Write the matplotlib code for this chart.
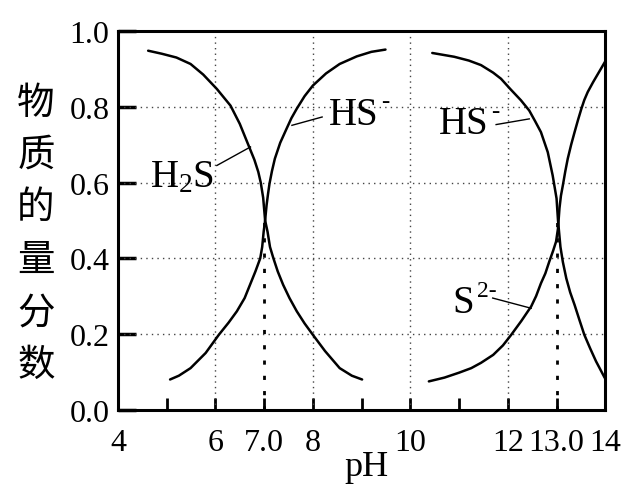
import matplotlib
matplotlib.use("Agg")
import matplotlib.pyplot as plt

plt.rcParams['font.family'] = ['Liberation Serif', 'DejaVu Serif']
plt.rcParams['mathtext.fontset'] = 'custom'
plt.rcParams['mathtext.rm'] = 'Liberation Serif'
plt.rcParams['mathtext.it'] = 'Liberation Serif'

# values (pH, fraction)
h2s_ph = [4.62, 4.9, 5.2, 5.49, 5.75, 6.03, 6.31, 6.5, 6.68, 6.80, 6.88, 6.93,
          6.98, 7.02, 7.07, 7.12, 7.19, 7.28, 7.39, 7.52, 7.67, 7.83, 8.0,
          8.25, 8.55, 8.8, 9.01]
h2s_y = [0.948, 0.94, 0.93, 0.913, 0.885, 0.847, 0.803, 0.755, 0.698, 0.66, 0.628, 0.60,
         0.56, 0.50, 0.47, 0.43, 0.40, 0.365, 0.33, 0.295, 0.26, 0.228, 0.198,
         0.155, 0.11, 0.09, 0.08]

hs1_ph = [5.07, 5.25, 5.49, 5.8, 6.07, 6.27, 6.44, 6.6, 6.71, 6.82, 6.92, 6.96,
          6.99, 7.02, 7.05, 7.08, 7.11, 7.16, 7.22, 7.33, 7.46, 7.56, 7.67,
          7.83, 8.0, 8.27, 8.55, 8.9, 9.2, 9.49]
hs1_y = [0.08, 0.09, 0.11, 0.15, 0.198, 0.23, 0.26, 0.295, 0.33, 0.365, 0.40, 0.43,
         0.47, 0.50, 0.54, 0.57, 0.597, 0.63, 0.663, 0.705, 0.742, 0.77, 0.795,
         0.828, 0.856, 0.888, 0.913, 0.933, 0.945, 0.951]

hs2_ph = [10.45, 10.9, 11.2, 11.45, 11.7, 11.86, 12.05, 12.27, 12.44, 12.56, 12.68,
          12.82, 12.92, 13.0, 13.03, 13.08, 13.13, 13.20, 13.28, 13.37, 13.47,
          13.57, 13.69, 13.81, 13.99]
hs2_y = [0.942, 0.932, 0.922, 0.91, 0.89, 0.874, 0.847, 0.817, 0.79, 0.762, 0.733,
         0.68, 0.619, 0.558, 0.50, 0.43, 0.39, 0.347, 0.31, 0.277, 0.237,
         0.198, 0.162, 0.128, 0.084]

s2_ph = [10.38, 10.7, 11.0, 11.25, 11.45, 11.7, 11.9, 12.07, 12.28, 12.48, 12.58,
         12.68, 12.77, 12.85, 12.93, 12.99, 13.03, 13.06, 13.09, 13.13, 13.18,
         13.23, 13.30, 13.37, 13.44, 13.51, 13.57, 13.64, 13.75, 13.85, 14.0]
s2_y = [0.075, 0.085, 0.098, 0.11, 0.124, 0.145, 0.17, 0.198, 0.235, 0.273, 0.30,
        0.334, 0.36, 0.391, 0.42, 0.444, 0.479, 0.532, 0.565, 0.593, 0.63,
        0.663, 0.70, 0.733, 0.765, 0.795, 0.818, 0.839, 0.865, 0.887, 0.92]

xticks = [4, 5, 6, 7, 8, 9, 10, 11, 12, 13, 14]
xticklabels = ['4', '', '6', '7.0', '8', '', '10', '', '12', '13.0', '14']
yticks = [0.0, 0.2, 0.4, 0.6, 0.8, 1.0]
yticklabels = ['0.0', '0.2', '0.4', '0.6', '0.8', '1.0']
grid_x_full = [6, 8, 10, 12]
grid_x_half = [7, 13]
grid_y = [0.2, 0.4, 0.6, 0.8]
ylabel_chars = ['物', '质', '的', '量', '分', '数']

fig = plt.figure(figsize=(6.24, 4.85), dpi=100)
ax = fig.add_axes([0.189, 0.153, 0.781, 0.781])

dot = (0, (1, 3))
ax.vlines(grid_x_full, 0, 1, colors='#444444', linestyles=dot, linewidth=1)
ax.vlines(grid_x_half, 0, 0.5, colors='black', linestyles=(0, (1.5, 4)), linewidth=2)
ax.hlines(grid_y, 4, 14, colors='#444444', linestyles=dot, linewidth=1)

for px, py in [(h2s_ph, h2s_y), (hs1_ph, hs1_y), (hs2_ph, hs2_y), (s2_ph, s2_y)]:
    ax.plot(px, py, color='black', lw=1.8, solid_capstyle='round', solid_joinstyle='round')

ax.set_xlim(4, 14)
ax.set_ylim(0, 1)
ax.set_xticks(xticks)
ax.set_xticklabels(xticklabels)
ax.set_yticks(yticks)
ax.set_yticklabels(yticklabels)
ax.tick_params(axis='x', direction='in', length=9, width=2, labelsize=23, pad=13)
ax.tick_params(axis='y', direction='in', length=13, width=2.5, labelsize=23, pad=6)
for s in ax.spines.values():
    s.set_linewidth(2.2)

# species labels and leader lines
ax.text(4.66, 0.616, r'H$_\mathrm{2}$S', fontsize=28, ha='left', va='center')
ax.plot([6.03, 6.72], [0.645, 0.694], color='black', lw=1)

ax.text(8.32, 0.78, 'HS', fontsize=28, ha='left', va='center')
ax.text(9.40, 0.815, '-', fontsize=18, ha='left', va='center')
ax.plot([8.19, 7.57], [0.773, 0.751], color='black', lw=1)

ax.text(10.58, 0.755, 'HS', fontsize=28, ha='left', va='center')
ax.text(11.66, 0.79, '-', fontsize=18, ha='left', va='center')
ax.plot([11.76, 12.44], [0.753, 0.768], color='black', lw=1)

ax.text(10.87, 0.284, 'S', fontsize=28, ha='left', va='center')
ax.text(11.37, 0.315, '2-', fontsize=17, ha='left', va='center')
ax.plot([11.69, 12.48], [0.295, 0.268], color='black', lw=1)

fig.text(366 / 624, 1 / 485, 'pH', fontsize=26, ha='center', va='bottom')

for i, ch in enumerate(ylabel_chars):
    fig.text(36 / 624, 1 - (103 + 52.4 * i) / 485, ch, fontsize=27,
             family=['Noto Sans CJK SC', 'DejaVu Sans'], ha='center', va='center')

plt.savefig('out.png', dpi=100)
